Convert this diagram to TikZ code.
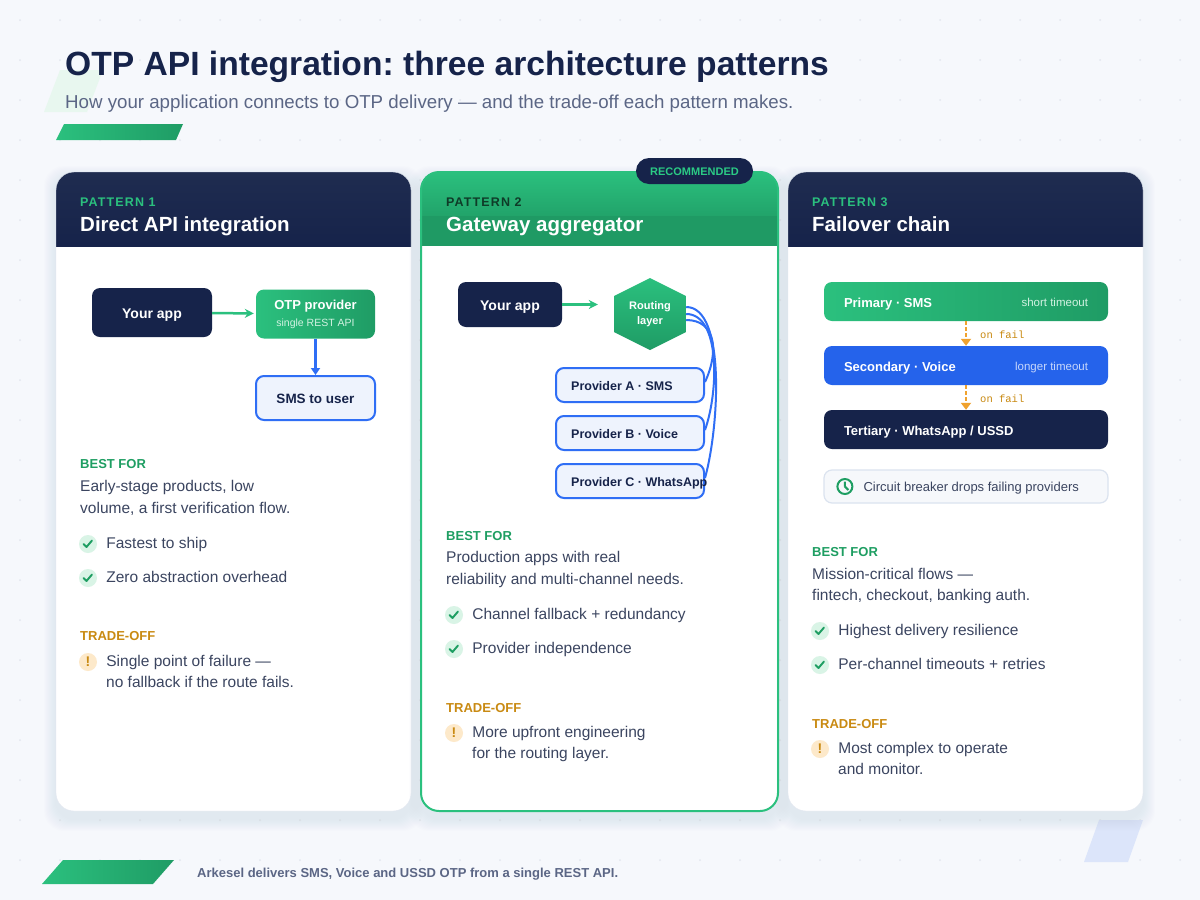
\documentclass[tikz,border=0pt]{standalone}
\usepackage{fontspec}
\setmainfont{Liberation Sans}
\setmonofont{Liberation Mono}
\newfontfamily\spacedfont[LetterSpace=9]{Liberation Sans}
\usetikzlibrary{arrows.meta,calc,positioning}
\frenchspacing
\definecolor{navy}{HTML}{16234A}
\definecolor{navytop}{HTML}{1F2C50}
\definecolor{okgreen}{HTML}{2BC07E}
\definecolor{deepgreen}{HTML}{1F9C65}
\definecolor{bandgreen}{HTML}{1F9A64}
\definecolor{linkblue}{HTML}{2F6EF5}
\definecolor{voiceblue}{HTML}{2563EB}
\definecolor{paleblue}{HTML}{EEF3FD}
\definecolor{inkgray}{HTML}{3B4560}
\definecolor{subgray}{HTML}{5B6685}
\definecolor{bestgreen}{HTML}{1E9E62}
\definecolor{tradeamber}{HTML}{C98A12}
\definecolor{failamber}{HTML}{F0A22E}
\definecolor{pagebg}{HTML}{F6F8FC}
\definecolor{dotgray}{HTML}{E3E7EF}
\definecolor{cardline}{HTML}{E2E7F0}
\definecolor{chkbg}{HTML}{D9F4E6}
\definecolor{warnbg}{HTML}{FDE9CA}
\definecolor{mint}{HTML}{E8F7EF}
\definecolor{haze}{HTML}{DCE5FA}
\definecolor{shadowc}{HTML}{8F9DC0}
\definecolor{pillgreen}{HTML}{2BCB85}
\definecolor{pat2ink}{HTML}{0F3B28}
\definecolor{softgreen}{HTML}{D2F2E2}
\definecolor{softblue}{HTML}{C7D7FB}
\definecolor{breakbg}{HTML}{F6F8FB}
\definecolor{breakline}{HTML}{DBE3EF}
\tikzset{card/.style={fill=white,rounded corners=18pt},
  patlabel/.style={anchor=west,inner sep=0pt,text=okgreen,text height=2.1ex,text depth=.2ex,font=\spacedfont\bfseries\fontsize{12.5}{14}\selectfont},
  cardtitle/.style={anchor=west,inner sep=0pt,text=white,text height=1.9ex,text depth=.2ex,font=\bfseries\fontsize{20.5}{24}\selectfont},
  darkbox/.style={rounded corners=8pt,fill=navy,text=white,inner sep=0pt,text height=2.4ex,text depth=.2ex,font=\bfseries\fontsize{14}{16}\selectfont},
  greenbox/.style={rounded corners=8pt,left color=okgreen,right color=deepgreen,text=white,inner sep=0pt},
  userbox/.style={rounded corners=8pt,fill=paleblue,draw=linkblue,line width=2pt,text=navy,inner sep=0pt,text height=2.1ex,text depth=.2ex,font=\bfseries\fontsize{13.5}{16}\selectfont},
  provbox/.style={userbox,minimum width=148pt,minimum height=34pt},
  boxtxt/.style={inner sep=0pt,anchor=west,text height=2.1ex,text depth=.2ex,font=\bfseries\fontsize{12.5}{14}\selectfont},
  sidetxt/.style={inner sep=0pt,anchor=east,text height=2.1ex,text depth=.2ex,font=\fontsize{11.5}{14}\selectfont},
  hexnode/.style={minimum width=72pt,minimum height=72pt,inner sep=0pt,text=white,align=center,font=\bfseries\fontsize{11}{15}\selectfont,
    path picture={\shade[top color=okgreen,bottom color=deepgreen] (path picture bounding box.north)
      -- ($(path picture bounding box.north east)!.25!(path picture bounding box.south east)$)
      -- ($(path picture bounding box.north east)!.75!(path picture bounding box.south east)$)
      -- (path picture bounding box.south)
      -- ($(path picture bounding box.south west)!.25!(path picture bounding box.north west)$)
      -- ($(path picture bounding box.south west)!.75!(path picture bounding box.north west)$) -- cycle;}},
  okarrow/.style={okgreen,line width=2.5pt,-{Stealth[length=9pt,width=9pt]}},
  downarrow/.style={linkblue,line width=2.5pt,-{Triangle[length=7pt,width=9pt]}},
  failarrow/.style={failamber,line width=2pt,dashed,dash pattern=on 4pt off 2pt,-{Triangle[length=7pt,width=10pt]}},
  wire/.style={linkblue,line width=2pt},
  failtxt/.style={anchor=west,inner sep=0pt,text=tradeamber,text height=1.9ex,text depth=.2ex,font=\ttfamily\fontsize{10.5}{12}\selectfont},
  headtxt/.style={anchor=west,inner sep=0pt,text height=2.3ex,text depth=.2ex,font=\bfseries\fontsize{13}{15}\selectfont},
  bodytxt/.style={anchor=west,inner sep=0pt,text=inkgray,text height=2.0ex,text depth=.2ex,font=\fontsize{15.5}{18}\selectfont},
  chk/.style={circle,fill=chkbg,minimum size=18pt,inner sep=0pt,
    path picture={\draw[bestgreen,line width=1.9pt,line cap=round,line join=round] ([xshift=-4.5pt]path picture bounding box.center) -- ++(3pt,-3pt) -- ++(5.5pt,6.5pt);}},
  warn/.style={circle,fill=warnbg,minimum size=18pt,inner sep=0pt,text=tradeamber,text height=1.9ex,text depth=.2ex,font=\bfseries\fontsize{14}{14}\selectfont},
  clock/.style={circle,draw=bestgreen,line width=2pt,minimum size=15pt,inner sep=0pt,
    path picture={\draw[bestgreen,line width=2pt] (path picture bounding box.center) -- ++(0,5pt) (path picture bounding box.center) -- ++(3.5pt,-3.5pt);}},
  pill/.style={rounded corners=13pt,fill=navy,text=pillgreen,minimum width=117pt,minimum height=26pt,inner sep=0pt,text height=1.9ex,text depth=.2ex,font=\bfseries\fontsize{11}{13}\selectfont}}
\begin{document}
\begin{tikzpicture}[x=1pt,y=-1pt]
  \useasboundingbox (0,0) rectangle (1200,900);
  \fill[pagebg] (0,0) rectangle (1200,900);
  \foreach \x in {20,60,...,1180}
    \foreach \y in {20,60,...,880}
      \fill[dotgray] (\x,\y) circle (1pt);
  \fill[mint] (60,70) -- (103,70) -- (87,112) -- (44,112) -- cycle;
  \shade[left color=okgreen,right color=deepgreen] (64,124) -- (183,124) -- (176,140) -- (56,140) -- cycle;
  \shade[left color=okgreen,right color=deepgreen] (63,860) -- (174,860) -- (153,884) -- (42,884) -- cycle;
  \fill[haze] (1099,820) -- (1143,820) -- (1128,862) -- (1084,862) -- cycle;
  \node[anchor=base west,inner sep=0pt,text=navy,font=\bfseries\fontsize{33.6}{40}\selectfont] (title) at (65,75) {OTP API integration: three architecture patterns};
  \node[anchor=base west,inner sep=0pt,text=subgray,font=\fontsize{18.7}{22}\selectfont] (subtitle) at (65,108) {How your application connects to OTP delivery — and the trade-off each pattern makes.};
  \node[anchor=west,inner sep=0pt,text=subgray,text height=1.9ex,text depth=.2ex,font=\bfseries\fontsize{13}{15}\selectfont] (foot) at (197,873) {Arkesel delivers SMS, Voice and USSD OTP from a single REST API.};
  \foreach \cx/\cw in {56/355,421/357,788/355}{
    \foreach \s in {1,...,12}
      \fill[shadowc,opacity=.012,rounded corners=20pt] (\cx-\s,178-\s) rectangle (\cx+\cw+\s,819+\s);
    \fill[card] (\cx,172) rectangle (\cx+\cw,811);
  }
  \begin{scope}
    \clip[rounded corners=18pt] (56,172) rectangle (411,811);
    \shade[top color=navytop,bottom color=navy] (56,172) rectangle (411,246);
  \end{scope}
  \begin{scope}
    \clip[rounded corners=18pt] (421,172) rectangle (778,811);
    \shade[top color=okgreen,bottom color=deepgreen!80!okgreen] (421,172) rectangle (778,216);
    \fill[bandgreen] (421,216) rectangle (778,246);
  \end{scope}
  \begin{scope}
    \clip[rounded corners=18pt] (788,172) rectangle (1143,811);
    \shade[top color=navytop,bottom color=navy] (788,172) rectangle (1143,246);
  \end{scope}
  \draw[cardline,rounded corners=18pt] (56,172) rectangle (411,811);
  \draw[cardline,rounded corners=18pt] (788,172) rectangle (1143,811);
  \draw[okgreen,line width=2pt,rounded corners=18pt] (421,172) rectangle (778,811);
  \node[pill] (reco) at (694.5,171) {RECOMMENDED};

  \node[patlabel] (pat1) at (80,201) {PATTERN 1};
  \node[cardtitle] (ttl1) at (80,227) {Direct API integration};
  \node[patlabel,text=pat2ink] (pat2) at (446,201) {PATTERN 2};
  \node[cardtitle] (ttl2) at (446,227) {Gateway aggregator};
  \node[patlabel] (pat3) at (812,201) {PATTERN 3};
  \node[cardtitle] (ttl3) at (812,227) {Failover chain};

  \node[darkbox,minimum width=120pt,minimum height=49pt] (app1) at (152,312.5) {Your app};
  \node[greenbox,minimum width=119pt,minimum height=49pt,align=center,font=\bfseries\fontsize{13}{17}\selectfont] (otp1) at (315.5,314) {OTP provider\\{\color{softgreen}\mdseries\fontsize{10.5}{12}\selectfont single REST API}};
  \node[userbox,minimum width=119pt,minimum height=44pt] (sms1) at (315.5,398) {SMS to user};
  \draw (app1) edge[okarrow,shorten >=2pt] (otp1)
    (otp1) edge[downarrow] (sms1);

  \node[darkbox,minimum width=104pt,minimum height=45pt] (app2) at (510,304.5) {Your app};
  \node[hexnode] (rout) at (650,314) {Routing\\layer};
  \node[provbox] (provA) at (630,385) {};
  \node[provbox] (provB) at (630,433) {};
  \node[provbox] (provC) at (630,481) {};
  \node[boxtxt,text=navy,right=16pt of provA.west] (provAt) {Provider A · SMS};
  \node[boxtxt,text=navy,right=16pt of provB.west] (provBt) {Provider B · Voice};
  \node[boxtxt,text=navy,right=16pt of provC.west] (provCt) {Provider C · WhatsApp};
  \draw[okarrow,shorten >=16pt] (app2.east) -- (app2.east -| rout.west);
  \draw[wire] ($(rout.east)+(0,6)$) .. controls +(30,0) and +(14,-30) .. ($(provA.east)+(0,-3)$);
  \draw[wire] (rout.east) .. controls +(34,0) and +(14,-40) .. ($(provB.east)+(0,-3)$);
  \draw[wire] ($(rout.east)+(0,-7)$) .. controls +(40,0) and +(14,-50) .. ($(provC.east)+(0,-3)$);

  \node[greenbox,minimum width=284pt,minimum height=39pt] (prim) at (966,301.5) {};
  \node[rounded corners=8pt,fill=voiceblue,minimum width=284pt,minimum height=39pt] (sec) at (966,365.5) {};
  \node[rounded corners=8pt,fill=navy,minimum width=284pt,minimum height=39pt] (tert) at (966,429.5) {};
  \node[headtxt,text=white,right=20pt of prim.west] (primt) {Primary · SMS};
  \node[sidetxt,text=softgreen,left=20pt of prim.east] (primr) {short timeout};
  \node[headtxt,text=white,right=20pt of sec.west] (sect) {Secondary · Voice};
  \node[sidetxt,text=softblue,left=20pt of sec.east] (secr) {longer timeout};
  \node[headtxt,text=white,right=20pt of tert.west] (tertt) {Tertiary · WhatsApp / USSD};
  \draw (prim) edge[failarrow] (sec)
    (sec) edge[failarrow] (tert);
  \node[failtxt] (fail1) at (980,334) {on fail};
  \node[failtxt] (fail2) at (980,398) {on fail};
  \node[rounded corners=8pt,fill=breakbg,draw=breakline,line width=1.2pt,minimum width=284pt,minimum height=33pt] (brk) at (966,486.5) {};
  \node[clock,right=13pt of brk.west] (clk) {};
  \node[bodytxt,font=\fontsize{13}{15}\selectfont,right=10pt of clk] (brkt) {Circuit breaker drops failing providers};

  \node[headtxt,text=bestgreen] (best1) at (80,463) {BEST FOR};
  \node[bodytxt] (d1a) at (80,487) {Early-stage products, low};
  \node[bodytxt] (d1b) at (80,509) {volume, a first verification flow.};
  \node[chk] (c1a) at (88,544) {};
  \node[bodytxt,right=9pt of c1a] (c1at) {Fastest to ship};
  \node[chk] (c1b) at (88,578) {};
  \node[bodytxt,right=9pt of c1b] (c1bt) {Zero abstraction overhead};
  \node[headtxt,text=tradeamber] (trade1) at (80,635) {TRADE-OFF};
  \node[warn] (w1) at (88,662) {!};
  \node[bodytxt,right=9pt of w1] (w1a) {Single point of failure —};
  \node[bodytxt] (w1b) at (106,683) {no fallback if the route fails.};

  \node[headtxt,text=bestgreen] (best2) at (446,535) {BEST FOR};
  \node[bodytxt] (d2a) at (446,558) {Production apps with real};
  \node[bodytxt] (d2b) at (446,580) {reliability and multi-channel needs.};
  \node[chk] (c2a) at (454,615) {};
  \node[bodytxt,right=9pt of c2a] (c2at) {Channel fallback + redundancy};
  \node[chk] (c2b) at (454,649) {};
  \node[bodytxt,right=9pt of c2b] (c2bt) {Provider independence};
  \node[headtxt,text=tradeamber] (trade2) at (446,707) {TRADE-OFF};
  \node[warn] (w2) at (454,733) {!};
  \node[bodytxt,right=9pt of w2] (w2a) {More upfront engineering};
  \node[bodytxt] (w2b) at (472,754) {for the routing layer.};

  \node[headtxt,text=bestgreen] (best3) at (812,551) {BEST FOR};
  \node[bodytxt] (d3a) at (812,575) {Mission-critical flows —};
  \node[bodytxt] (d3b) at (812,596) {fintech, checkout, banking auth.};
  \node[chk] (c3a) at (820,631) {};
  \node[bodytxt,right=9pt of c3a] (c3at) {Highest delivery resilience};
  \node[chk] (c3b) at (820,665) {};
  \node[bodytxt,right=9pt of c3b] (c3bt) {Per-channel timeouts + retries};
  \node[headtxt,text=tradeamber] (trade3) at (812,723) {TRADE-OFF};
  \node[warn] (w3) at (820,749) {!};
  \node[bodytxt,right=9pt of w3] (w3a) {Most complex to operate};
  \node[bodytxt] (w3b) at (838,770) {and monitor.};
\end{tikzpicture}
\end{document}
